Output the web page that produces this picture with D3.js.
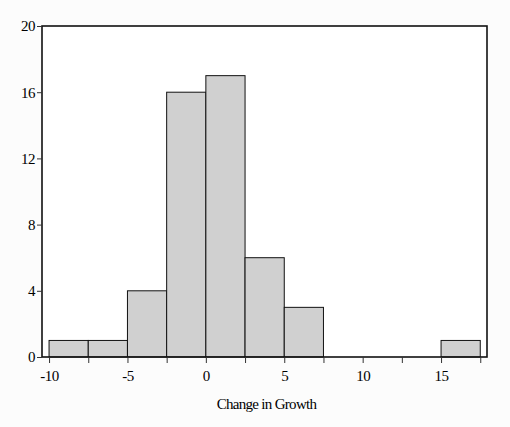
<!DOCTYPE html>
<html>
<head>
<meta charset="utf-8">
<script src="https://cdn.jsdelivr.net/npm/d3@7"></script>
<style>
  body { margin: 0; background: #fcfcfc; }
  text { font-family: "Liberation Serif", "DejaVu Serif", serif; fill: #000; }
</style>
</head>
<body>
<svg width="510" height="427"></svg>
<script>
// histogram bins (lower edge, upper edge) and counts
const binStarts = [-10, -7.5, -5, -2.5, 0, 2.5, 5, 7.5, 10, 12.5, 15]
const binWidth = 2.5
const counts = [1, 1, 4, 16, 17, 6, 3, 0, 0, 0, 1]
const xTickValues = [-10, -7.5, -5, -2.5, 0, 2.5, 5, 7.5, 10, 12.5, 15, 17.5]
const xTickLabels = [-10, -5, 0, 5, 10, 15]
const yTickValues = [0, 4, 8, 12, 16, 20]

const svg = d3.select("svg")
const [plotLeft, plotRight, plotTop, plotBottom] = [42, 487, 26, 357]

const x = d3.scaleLinear().domain([-10.45, 17.93]).range([plotLeft, plotRight])
const y = d3.scaleLinear().domain([0, 20]).range([plotBottom, plotTop])

svg.append("rect")
  .attr("x", plotLeft).attr("y", plotTop)
  .attr("width", plotRight - plotLeft).attr("height", plotBottom - plotTop)
  .attr("fill", "#fff")

const bins = binStarts.map((s, i) => ({ x0: s, x1: s + binWidth, n: counts[i] }))
  .filter((d) => d.n > 0)

svg.selectAll("rect.bar")
  .data(bins)
  .enter()
  .append("rect")
  .classed("bar", true)
  .attr("x", (d) => x(d.x0))
  .attr("y", (d) => y(d.n))
  .attr("width", (d) => x(d.x1) - x(d.x0))
  .attr("height", (d) => y(0) - y(d.n))
  .attr("fill", "#d0d0d0")
  .attr("stroke", "#111")
  .attr("stroke-width", 1)

// frame
svg.append("rect")
  .attr("x", plotLeft).attr("y", plotTop)
  .attr("width", plotRight - plotLeft).attr("height", plotBottom - plotTop)
  .attr("fill", "none")
  .attr("stroke", "#111")
  .attr("stroke-width", 1.6)

// x axis
const xAxis = d3.axisBottom(x)
  .tickValues(xTickValues)
  .tickSize(6)
  .tickFormat((d) => xTickLabels.includes(d) ? String(d) : "")
const gx = svg.append("g").attr("transform", `translate(0,${plotBottom})`).call(xAxis)
gx.select(".domain").remove()
gx.selectAll("line").attr("stroke", "#333")
gx.selectAll("text")
  .attr("font-size", 15)
  .attr("letter-spacing", -0.5)
  .attr("dy", "1em")

// y axis
const yAxis = d3.axisLeft(y).tickValues(yTickValues).tickSize(5).tickPadding(2)
  .tickFormat((d) => String(d))
const gy = svg.append("g").attr("transform", `translate(${plotLeft},0)`).call(yAxis)
gy.select(".domain").remove()
gy.selectAll("line").attr("stroke", "#333")
gy.selectAll("text").attr("font-size", 15).attr("letter-spacing", -0.5)

svg.append("text")
  .attr("x", (plotLeft + plotRight) / 2 + 2)
  .attr("y", 409)
  .attr("text-anchor", "middle")
  .attr("font-size", 15)
  .attr("letter-spacing", -0.7)
  .text("Change in Growth")
</script>
</body>
</html>
